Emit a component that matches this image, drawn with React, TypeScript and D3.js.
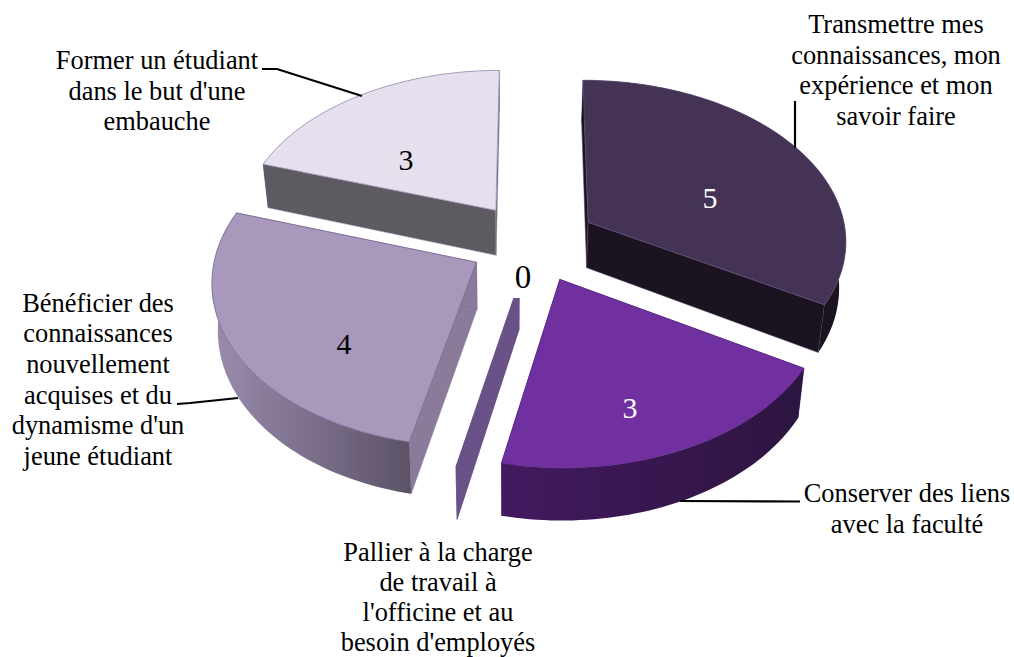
import React from "react";
import * as d3 from "d3";

const categories = [
  "Transmettre mes connaissances, mon expérience et mon savoir faire",
  "Conserver des liens avec la faculté",
  "Pallier à la charge de travail à l'officine et au besoin d'employés",
  "Bénéficier des connaissances nouvellement acquises et du dynamisme d'un jeune étudiant",
  "Former un étudiant dans le but d'une embauche",
];
const values = [5, 3, 0, 4, 3];
const topColors = ["#443355", "#7030a0", "#6a5288", "#a898bc", "#e6e0ee"];
const cutColors = ["#1b1420", "#2c1540", "#6a5288", "#8b7b9b", "#5d5a62"];
const wallFrom = ["#1b1420", "#43195f", "#6a5288", "#9a8cae", "#5d5a62"];
const wallTo = ["#1b1420", "#2c1540", "#6a5288", "#5c5267", "#5d5a62"];
const edgeColors = ["#5d4c75", "#5e2a88", "#6a5288", "#7a6a92", "#a093b8"];
const valueColors = ["#ffffff", "#ffffff", "#000000", "#000000", "#000000"];
const valueAnchors = [[710, 198], [630, 408], [523, 277], [344, 344], [406, 160]];
const valueSizes = [30, 30, 33, 30, 30];

const labelLines = [
  ["Transmettre mes", "connaissances, mon", "expérience et mon", "savoir faire"],
  ["Conserver des liens", "avec la faculté"],
  ["Pallier à la charge", "de travail à", "l'officine et au", "besoin d'employés"],
  ["Bénéficier des", "connaissances", "nouvellement", "acquises et du", "dynamisme d'un", "jeune étudiant"],
  ["Former un étudiant", "dans le but d'une", "embauche"],
];
const labelAnchors = [[896, 33], [907, 502], [438, 561], [98, 311.5], [157, 69]];
const labelSteps = [30.7, 30.5, 30, 30.7, 30.5];
const leaders = [
  [[795, 101], [795, 148]],
  [[800, 501.5], [680, 501]],
  [],
  [[177, 404], [190, 403], [238, 398]],
  [[262, 69], [277, 69], [362, 96]],
];

const W = 1014, H = 657;
const CX = 533, CY = 242, R = 259, EXPLODE = 64.5, TILT = 0.62, K = 0.0004, DEPTH = 46;
const VANISH = 510, SHRINK = 0.02;

type P = [number, number];

function project(wx: number, wz: number, down: boolean): P {
  const p = 1 / (1 + K * wz);
  const x = CX + wx * p;
  const y = CY - wz * TILT * p;
  if (!down) return [x, y];
  return [x + (VANISH - x) * SHRINK, y + DEPTH * p];
}

const line = d3.line<P>().x((d) => d[0]).y((d) => d[1]);

export default function App() {
  const arcs = d3.pie<number>().sort(null).value((d) => d)(values);

  const slices = arcs.map((a, i) => {
    const mid = (a.startAngle + a.endAngle) / 2;
    const ax = EXPLODE * Math.sin(mid);
    const az = EXPLODE * Math.cos(mid);
    const n = Math.max(2, Math.ceil((a.endAngle - a.startAngle) * 40));
    const angles = d3.range(n + 1).map((k) => a.startAngle + ((a.endAngle - a.startAngle) * k) / n);
    const rimOf = (down: boolean) =>
      angles.map((t) => project(ax + R * Math.sin(t), az + R * Math.cos(t), down));
    const topRim = rimOf(false);
    const botRim = rimOf(true);
    const apexTop = project(ax, az, false);
    const apexBot = project(ax, az, true);
    return {
      i,
      top: line([apexTop, ...topRim])! + "Z",
      wall: line([...topRim, ...[...botRim].reverse()])! + "Z",
      cutA: line([apexTop, topRim[0], botRim[0], apexBot])! + "Z",
      cutB: line([apexTop, topRim[n], botRim[n], apexBot])! + "Z",
    };
  });

  // back slices first, front slices over them
  const order = [4, 0, 3, 2, 1];

  return (
    <svg
      width={W}
      height={H}
      viewBox={`0 0 ${W} ${H}`}
      style={{ position: "fixed", left: 0, top: 0, background: "#fff" }}
      fontFamily="'Liberation Serif', serif"
    >
      <defs>
        {values.map((_, i) => (
          <linearGradient key={i} id={`wall${i}`} x1="0" x2="1" y1="0" y2="0">
            <stop offset="0" stopColor={wallFrom[i]} />
            <stop offset="1" stopColor={wallTo[i]} />
          </linearGradient>
        ))}
      </defs>
      {order.map((idx) => {
        const s = slices[idx];
        return (
          <g key={idx}>
            <path d={s.cutA} fill={cutColors[idx]} stroke={edgeColors[idx]} strokeWidth={0.5} />
            <path d={s.cutB} fill={cutColors[idx]} stroke={edgeColors[idx]} strokeWidth={0.5} />
            {values[idx] > 0 && (
              <path d={s.wall} fill={`url(#wall${idx})`} />
            )}
            {values[idx] > 0 && (
              <path d={s.top} fill={topColors[idx]} stroke={edgeColors[idx]} strokeWidth={0.8} />
            )}
          </g>
        );
      })}
      {/* white box behind the zero label */}
      <rect x={503} y={258} width={36} height={40} fill="#fff" />
      {leaders.map((pts, i) =>
        pts.length ? (
          <path key={i} d={line(pts as P[])!} fill="none" stroke="#000" strokeWidth={2.2} />
        ) : null
      )}
      {values.map((v, i) => (
        <text
          key={i}
          x={valueAnchors[i][0]}
          y={valueAnchors[i][1] + valueSizes[i] * 0.33}
          fontSize={valueSizes[i]}
          textAnchor="middle"
          fill={valueColors[i]}
        >
          {v}
        </text>
      ))}
      {labelLines.map((lines, i) => (
        <g key={i} aria-label={categories[i]}>
          {lines.map((t, j) => (
            <text
              key={j}
              x={labelAnchors[i][0]}
              y={labelAnchors[i][1] + j * labelSteps[i]}
              fontSize={26.4}
              textAnchor="middle"
              fill="#000"
            >
              {t}
            </text>
          ))}
        </g>
      ))}
    </svg>
  );
}
